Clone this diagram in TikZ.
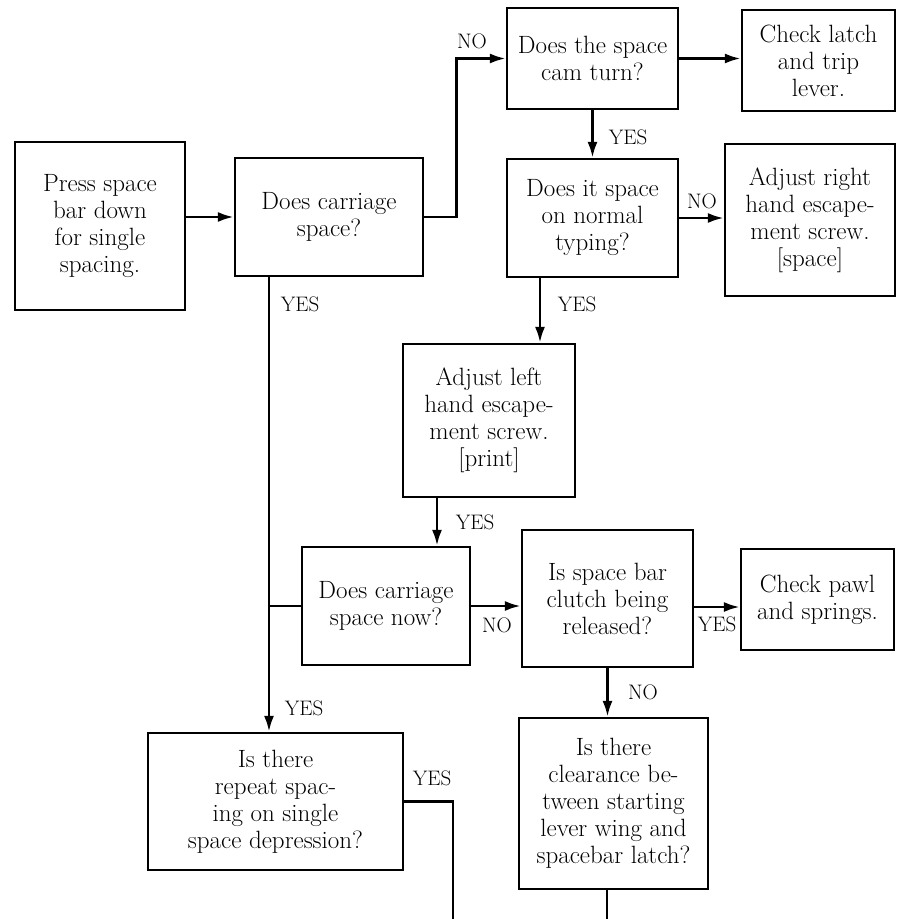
\documentclass[tikz,border=0pt]{standalone}
\usetikzlibrary{arrows.meta}
\begin{document}
\begin{tikzpicture}[x=1pt,y=-1pt,
box/.style={
% The shape:
rectangle,
draw=black,
line width=2.2pt,
inner sep=0pt,
align=center,
font=\fontsize{25}{27}\selectfont
},
answer/.style={inner sep=0pt,font=\fontsize{21}{24}\selectfont},
flow/.style={line width=2.8pt,-{Latex[length=16pt,width=10pt]}},
wire/.style={line width=2.8pt}
]
\useasboundingbox (0,0) rectangle (900,919);
% Lanes of the connectors:
\coordinate (yesA) at (269,0);
\coordinate (yesB) at (540,0);
\coordinate (yesC) at (437,0);
\coordinate (yesD) at (0,607);
\coordinate (endA) at (453,919);
\coordinate (endB) at (607,919);
% First row:
\node (press) [box,minimum width=170pt,minimum height=168pt] at (100,226) {Press space\\bar down\\for single\\spacing.};
\node (carr) [box,minimum width=188pt,minimum height=118pt] at (329,217) {Does carriage\\space?};
\node (cam) [box,minimum width=171pt,minimum height=101pt] at (592.5,58.5) {Does the space\\cam turn?};
\node (latch) [box,minimum width=153pt,minimum height=101pt] at (818.5,60.5) {Check latch\\and trip\\lever.};
\node (normal) [box,minimum width=171pt,minimum height=118pt] at (592.5,218) {Does it space\\on normal\\typing?};
\node (right) [box,minimum width=170pt,minimum height=152pt] at (810,220) {Adjust right\\hand escape-\\ment screw.\\ {[space]}};
% Middle:
\node (left) [box,minimum width=172pt,minimum height=153pt] at (489,420.5) {Adjust left\\hand escape-\\ment screw.\\ {[print]}};
\node (now) [box,minimum width=168pt,minimum height=118pt] at (386,606) {Does carriage\\space now?};
\node (clutch) [box,minimum width=171pt,minimum height=137pt] at (607.5,598.5) {Is space bar\\clutch being\\released?};
\node (pawl) [box,minimum width=153pt,minimum height=101pt] at (817.5,599.5) {Check pawl\\and springs.};
% Bottom:
\node (repeat) [box,minimum width=255pt,minimum height=137pt] at (275.5,801.5) {Is there\\repeat spac-\\ing on single\\space depression?};
\node (clear) [box,minimum width=189pt,minimum height=171pt] at (613.5,803.5) {Is there\\clearance be-\\tween starting\\lever wing and\\spacebar latch?};
% Connectors:
\draw[flow] (press.east |- carr.west) -- (carr.west);
\draw[flow] (carr.east) -- ++(32,0) |- (cam.west);
\draw[flow] (cam.east) -- (cam.east -| latch.west);
\path (cam) edge[flow] (normal);
\draw[flow] (normal.east) -- (normal.east -| right.west);
\draw[flow] (normal.south -| yesB) -- (left.north -| yesB);
\draw[flow] (carr.south -| yesA) -- (repeat.north -| yesA);
\draw[wire] (now.west -| yesA) -- (now.west);
\draw[flow] (left.south -| yesC) -- (now.north -| yesC);
\draw[flow] (now.east) -- (now.east -| clutch.west);
\draw[flow] (clutch.east |- yesD) -- (pawl.west |- yesD);
\draw[flow] (clutch.south) -- (clutch.south |- clear.north);
\draw[wire] (repeat.east) -| (endA);
\draw[wire] (clear.south -| endB) -- (endB);
% Answers:
\node (noCam) [answer] at (472,41) {NO};
\node (yesCam) [answer] at (628,137) {YES};
\node (noRight) [answer] at (702,201) {NO};
\node (yesLeft) [answer] at (577,304) {YES};
\node (yesCarr) [answer] at (300,304) {YES};
\node (yesNow) [answer] at (475,522) {YES};
\node (noNow) [answer] at (497,625) {NO};
\node (yesPawl) [answer] at (717,624) {YES};
\node (noClutch) [answer] at (643,692) {NO};
\node (yesRepeat) [answer] at (304,708) {YES};
\node (yesOut) [answer] at (432,778) {YES};
\end{tikzpicture}
\end{document}
